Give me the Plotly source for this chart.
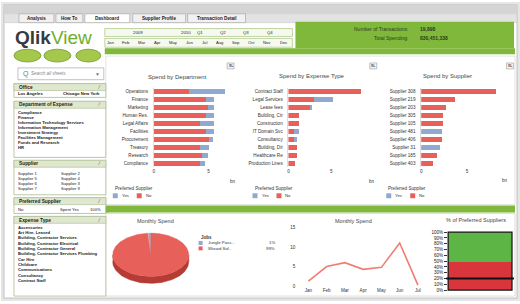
import numpy as np
import plotly.graph_objects as go

W, H = 520, 304
FONT = "Liberation Sans, Arial, sans-serif"
RED = "#e8605a"
BLUE = "#8fa9cf"
GREEN = "#80b83c"

# ---------------- data ----------------
dept_names = ["Operations", "Finance", "Marketing", "Human Res.", "Legal Affairs",
              "Facilities", "Procurement", "Treasury", "Research", "Compliance"]
dept_no = [3.2, 4.8, 4.9, 4.8, 4.2, 4.8, 5.0, 4.2, 4.4, 4.2]
dept_yes = [3.3, 0.7, 0.6, 0.7, 1.3, 0.7, 0.4, 0.8, 0.5, 0.5]

etype_names = ["Contract Staff", "Legal Services", "Lease fees", "Building, Ctr",
               "Construction", "IT Domain Svc", "Consultancy", "Building, Dir",
               "Healthcare Re", "Production Lines"]
etype_no = [8.5, 3.0, 2.6, 1.2, 1.2, 0.6, 0.6, 1.0, 1.0, 0.8]
etype_yes = [0.0, 2.2, 0.2, 0.0, 0.0, 0.6, 0.4, 0.0, 0.0, 0.0]

supp_names = ["Supplier 308", "Supplier 219", "Supplier 203", "Supplier 305", "Supplier 105",
              "Supplier 481", "Supplier 406", "Supplier 31", "Supplier 185", "Supplier 403"]
supp_spend = [8.2, 3.7, 2.7, 2.4, 2.4, 2.3, 2.3, 2.0, 1.7, 1.3]
supp_pref = ["No", "No", "No", "No", "No", "Yes", "No", "Yes", "No", "No"]

pie_labels = ["Jungle Pass...", "Wizard Sol..."]
pie_values = [1, 99]

months = ["Jan", "Feb", "Mar", "Apr", "May", "Jun", "Jul"]
monthly_spend = [1.3, 5.0, 6.0, 4.3, 4.8, 11.0, 0.3]

pref_share_no = 49
pref_share_yes = 51
pref_target = 20
pct_ticks = [0, 10, 20, 30, 40, 50, 60, 70, 80, 90, 100]

tabs = ["Analysis", "How To", "Dashboard", "Supplier Profile", "Transaction Detail"]
period_row = ["2009", "2010", "Q1", "Q2", "Q3", "Q4"]
month_row = ["Jan", "Feb", "Mar", "Apr", "May", "Jun", "Jul", "Aug", "Sep", "Oct", "Nov", "Dec"]
dept_list = ["Compliance", "Finance", "Information Technology Services", "Information Management",
             "Investment Strategy", "Facilities Management", "Funds and Research", "HR"]
supplier_list = [("Supplier 1", "Supplier 2"), ("Supplier 5", "Supplier 4"),
                 ("Supplier 6", "Supplier 3"), ("Supplier 7", "Supplier 9")]
expense_list = ["Accessories", "Art Hire, Leased", "Building, Contractor Services",
                "Building, Contractor Electrical", "Building, Contractor General",
                "Building, Contractor Services Plumbing", "Car Hire", "Childcare",
                "Communications", "Consultancy", "Contract Staff"]


# ---------------- helpers ----------------
def X(p):
    return p / W


def Y(p):
    return 1 - p / H


shapes = []
anns = []


def rect(x0, y0, x1, y1, fill=None, line=None, lw=0.8, layer="below"):
    shapes.append(dict(type="rect", xref="paper", yref="paper",
                       x0=X(x0), x1=X(x1), y0=Y(y1), y1=Y(y0),
                       fillcolor=fill if fill else "rgba(0,0,0,0)",
                       line=dict(color=line if line else "rgba(0,0,0,0)", width=lw if line else 0),
                       layer=layer))


def oval(x0, y0, x1, y1, fill, line):
    shapes.append(dict(type="circle", xref="paper", yref="paper",
                       x0=X(x0), x1=X(x1), y0=Y(y1), y1=Y(y0),
                       fillcolor=fill, line=dict(color=line, width=0.8), layer="below"))


def txt(x, y, s, size=5, color="#333333", anchor="left", bold=False):
    if bold:
        s = "<b>" + s + "</b>"
    anns.append(dict(x=X(x), y=Y(y), xref="paper", yref="paper", text=s, showarrow=False,
                     xanchor=anchor, yanchor="middle",
                     font=dict(size=size, color=color, family=FONT)))


# ---------------- frame / chrome ----------------
rect(0, 0, 520, 304, fill="#e6e6e6")
rect(3, 3, 517, 301, fill="#ffffff", line="#b5b5b5")
rect(3, 3, 517, 12, fill="#d4d4d4")
rect(3, 12, 517, 21, fill="#e3e3e3", line="#c4c4c4", lw=0.5)
tab_x = [(18, 53), (55, 82), (84, 129), (132, 185), (187, 245)]
for (a, b), t in zip(tab_x, tabs):
    rect(a, 12, b, 21, fill="#ffffff" if t == "Dashboard" else "#f1f1f1", line="#9a9a9a", lw=0.6)
    txt((a + b) / 2, 16.5, t, size=4.6, color="#222222", anchor="center", bold=True)

# logo
anns.append(dict(x=X(12), y=Y(36), xref="paper", yref="paper", showarrow=False, xanchor="left",
                 yanchor="middle",
                 text="<b><span style='color:#3a3a3a'>Qlik</span></b><span style='color:#6fae2e'>View</span>",
                 font=dict(size=19, family="Liberation Sans, Arial, sans-serif")))
# buttons
for a, b in [(13, 40), (43, 70), (75, 100)]:
    oval(a, 48, b, 61, "#a3c84b", "#6e9a2c")
# search box
rect(17, 67, 103, 79, fill="#ffffff", line="#a8a8a8", lw=0.7)
txt(20, 73, "Q", size=7, color="#777777")
txt(28, 73, "<i>Search all sheets</i>", size=4.5, color="#888888")
txt(97, 73, "▼", size=5, color="#777777", anchor="center")

# period selectors
rect(104, 27, 292, 35, fill="#f6f9ef", line="#a7c47c", lw=0.7)
for s, xp in zip(period_row, [137, 185, 199, 222, 245, 270]):
    txt(xp, 31, s, size=4.3, color="#222222", anchor="center")
rect(104, 37, 292, 46, fill="#f6f9ef", line="#a7c47c", lw=0.7)
for i, s in enumerate(month_row):
    txt(110 + i * 15.7, 41.5, s, size=4.2, color="#222222", anchor="center")

# green KPI box + stripes
rect(295, 20, 514, 47, fill=GREEN)
rect(104, 47, 515, 53, fill=GREEN)
txt(410, 27.5, "Number of Transactions:", size=5, color="#2c3d1c", anchor="right")
txt(418, 27.5, "<b>19,898</b>", size=5, color="#2c3d1c")
txt(410, 37, "Total Spending:", size=5, color="#2c3d1c", anchor="right")
txt(418, 37, "<b>830,451,338</b>", size=5, color="#2c3d1c")

# middle and bottom panels
rect(105, 55, 515, 206, fill="#ffffff", line="#d0d0d0", lw=0.6)
rect(104, 207, 515, 214, fill=GREEN)
rect(105, 215, 515, 299, fill="#ffffff", line="#c8c8c8", lw=0.6)
for xp in (230, 373, 510):
    rect(xp - 3.5, 62, xp + 3.5, 68, fill="#f4f4f4", line="#888888", lw=0.5)
    txt(xp, 65, "XL", size=3.2, color="#333333", anchor="center", bold=True)

# left listboxes
LB_LINE = "#a9bb8d"
HDR = "#dfe7cf"


def listbox(y0, y1, title):
    rect(13, y0, 105, y1, fill="#ffffff", line=LB_LINE, lw=0.8)
    rect(13, y0, 105, y0 + 7, fill=HDR, line=LB_LINE, lw=0.6)
    txt(16, y0 + 3.7, title, size=4.8, color="#222222", bold=True)
    txt(102, y0 + 3.7, "⁄", size=4.5, color="#444444", anchor="right")


listbox(83, 97, "Office")
txt(15, 93, "Los Angeles", size=4.2, color="#222222", bold=True)
txt(60, 93, "Chicago New York", size=4.2, color="#222222", bold=True)

listbox(101, 158, "Department of Expense")
for i, s in enumerate(dept_list):
    txt(15, 112 + i * 5.2, s, size=4.2, color="#222222", bold=True)

listbox(161, 196, "Supplier")
for i, (a, b) in enumerate(supplier_list):
    txt(15, 174 + i * 5.2, a, size=4.2, color="#222222")
    txt(58, 174 + i * 5.2, b, size=4.2, color="#222222")

listbox(199, 215, "Preferred Supplier")
txt(15, 211, "No", size=4.2, color="#222222")
txt(57, 211, "Spent Yes", size=4.2, color="#222222")
txt(102, 211, "100%", size=4.2, color="#222222", anchor="right")
rect(105, 209, 108, 214, fill=GREEN)

listbox(218, 299, "Expense Type")
for i, s in enumerate(expense_list):
    txt(15, 229 + i * 5.4, s, size=4.2, color="#222222", bold=True)

# ---------------- figure ----------------
fig = go.Figure()

# chart titles / legends
txt(177, 76, "Spend by Department", size=6, color="#444444", anchor="center")
txt(312, 75, "Spend by Expense Type", size=6, color="#444444", anchor="center")
txt(447, 75, "Spend by Supplier", size=6, color="#444444", anchor="center")
for lx in (112, 252, 386):
    txt(lx, 190, "Preferred Supplier", size=4.6, color="#333333")
    rect(lx, 194.5, lx + 5, 199.5, fill=BLUE)
    txt(lx + 7, 197, "Yes", size=4.3, color="#333333")
    rect(lx + 24, 194.5, lx + 29, 199.5, fill=RED)
    txt(lx + 31, 197, "No", size=4.3, color="#333333")
txt(232, 182, "bn", size=4.5, color="#333333", anchor="center")
txt(372, 182, "bn", size=4.5, color="#333333", anchor="center")
txt(505, 181, "bn", size=4.5, color="#333333", anchor="center")

txt(155, 223, "Monthly Spend", size=5.5, color="#444444", anchor="center")
txt(353, 223, "Monthly Spend", size=5.5, color="#444444", anchor="center")
txt(476, 222, "% of Preferred Suppliers", size=5.5, color="#444444", anchor="center")


def dom_x(a, b):
    return [X(a), X(b)]


def dom_y(top, bottom):
    return [Y(bottom), Y(top)]


bar_common = dict(orientation="h", marker_line_width=0, hoverinfo="x+y")

# chart 1
fig.add_trace(go.Bar(y=dept_names, x=dept_no, marker_color=RED, name="No", xaxis="x", yaxis="y", **bar_common))
fig.add_trace(go.Bar(y=dept_names, x=dept_yes, marker_color=BLUE, name="Yes", xaxis="x", yaxis="y", **bar_common))
# chart 2
fig.add_trace(go.Bar(y=etype_names, x=etype_no, marker_color=RED, name="No", xaxis="x2", yaxis="y2", **bar_common))
fig.add_trace(go.Bar(y=etype_names, x=etype_yes, marker_color=BLUE, name="Yes", xaxis="x2", yaxis="y2", **bar_common))
# chart 3
fig.add_trace(go.Bar(y=supp_names, x=supp_spend,
                     marker_color=[BLUE if p == "Yes" else RED for p in supp_pref],
                     name="Supplier", xaxis="x3", yaxis="y3", **bar_common))

# pie (tilted ellipse) computed from values
d = 0.32
tot = sum(pie_values)
theta0 = 90.0
ang = [theta0]
for v in pie_values:
    ang.append(ang[-1] + 360.0 * v / tot)
t = np.radians(np.linspace(180, 360, 80))
sx = np.concatenate([np.cos(t), np.cos(t[::-1])])
sy = np.concatenate([np.sin(t), np.sin(t[::-1]) - d])
fig.add_trace(go.Scatter(x=sx, y=sy, fill="toself", fillcolor="#b53b35", mode="lines",
                         line=dict(width=0.5, color="#a8342f"), xaxis="x4", yaxis="y4",
                         hoverinfo="skip"))
pie_cols = [BLUE, RED]
for i, (lab, v) in enumerate(zip(pie_labels, pie_values)):
    tt = np.radians(np.linspace(ang[i], ang[i + 1], max(4, int(abs(ang[i + 1] - ang[i])))))
    px_ = np.concatenate([[0], np.cos(tt), [0]])
    py_ = np.concatenate([[0], np.sin(tt), [0]])
    fig.add_trace(go.Scatter(x=px_, y=py_, fill="toself", fillcolor=pie_cols[i], mode="lines",
                             line=dict(width=0.4, color=pie_cols[i]), name=lab,
                             xaxis="x4", yaxis="y4", hoverinfo="name"))
txt(198, 239, "Jobs", size=4.5, color="#333333", bold=True)
for i, (lab, v) in enumerate(zip(pie_labels, pie_values)):
    yy = 245 + i * 5.5
    rect(198, yy - 2, 202, yy + 2, fill=pie_cols[i])
    txt(205, yy, lab, size=4.3, color="#333333")
    txt(277, yy, f"{v}%", size=4.3, color="#333333", anchor="right")

# line chart
fig.add_trace(go.Scatter(x=months, y=monthly_spend, mode="lines", line=dict(color="#ef7d72", width=1.6),
                         xaxis="x5", yaxis="y5", name="Monthly Spend"))

# % preferred
fig.add_trace(go.Bar(x=["Pref"], y=[pref_share_no], marker_color="#d8363c", marker_line_width=0,
                     xaxis="x6", yaxis="y6", name="No", orientation="v"))
fig.add_trace(go.Bar(x=["Pref"], y=[pref_share_yes], marker_color="#5db545", marker_line_width=0,
                     xaxis="x6", yaxis="y6", name="Yes", orientation="v"))
shapes.append(dict(type="line", xref="x6 domain", yref="y6", x0=-0.03, x1=1.03,
                   y0=pref_target, y1=pref_target, line=dict(color="#111111", width=2), layer="above"))
shapes.append(dict(type="rect", xref="x6 domain", yref="y6 domain", x0=0, x1=1, y0=0, y1=1,
                   line=dict(color="#111111", width=1.2), layer="above"))

tf = dict(size=4.6, color="#333333", family=FONT)
cat_axis = dict(type="category", autorange="reversed", showgrid=False, zeroline=False,
                ticks="", tickfont=tf, ticklabelstandoff=4, showline=True,
                linecolor="#dddddd", linewidth=0.6)
val_axis = dict(showgrid=False, zeroline=False, showline=False, ticks="", tickvals=[0, 5],
                tickfont=tf)

fig.update_layout(
    width=W, height=H, margin=dict(l=0, r=0, t=0, b=0),
    paper_bgcolor="#ffffff", plot_bgcolor="rgba(0,0,0,0)",
    barmode="stack", bargap=0.38, showlegend=False,
    font=dict(family=FONT),
    shapes=shapes, annotations=anns,
    xaxis=dict(domain=dom_x(153, 230), range=[0, 7.0], anchor="y", **val_axis),
    yaxis=dict(domain=dom_y(87, 168), anchor="x", **cat_axis),
    xaxis2=dict(domain=dom_x(288, 366), range=[0, 78 / 8.6], anchor="y2", **val_axis),
    yaxis2=dict(domain=dom_y(87, 168), anchor="x2", **cat_axis),
    xaxis3=dict(domain=dom_x(421, 500), range=[0, 79 / 9.2], anchor="y3", **val_axis),
    yaxis3=dict(domain=dom_y(87, 168), anchor="x3", **cat_axis),
    xaxis4=dict(domain=dom_x(110, 190), range=[-1.05, 1.05], visible=False, anchor="y4"),
    yaxis4=dict(domain=dom_y(232, 292), range=[-1.59, 1.136], visible=False, anchor="x4"),
    xaxis5=dict(domain=dom_x(298.85, 426.9), range=[-0.5, 6.5], type="category", anchor="y5",
                showgrid=False, zeroline=False, showline=False, ticks="", tickfont=tf),
    yaxis5=dict(domain=dom_y(227, 289), range=[0, 15.5], anchor="x5", tickvals=[0, 5, 10, 15],
                showgrid=False, zeroline=False, showline=False, ticks="", tickfont=tf,
                ticklabelstandoff=3),
    xaxis6=dict(domain=dom_x(448, 512), range=[-0.5, 0.5], type="category", anchor="y6",
                visible=False),
    yaxis6=dict(domain=dom_y(234, 293), range=[0, 100], anchor="x6", tickmode="array",
                tickvals=pct_ticks, ticktext=[f"{v}%" for v in pct_ticks],
                showgrid=False, zeroline=False, showline=False, ticks="outside",
                ticklen=3, tickcolor="#333333", tickwidth=0.8, showticklabels=True,
                tickfont=dict(size=4.6, color="#222222", family=FONT)),
)
fig.update_traces(selector=dict(xaxis="x6"), width=1.0)

fig.write_html("out.html", config={"displayModeBar": False},
               post_script="document.body.style.margin='0px';document.body.style.overflow='hidden';")
